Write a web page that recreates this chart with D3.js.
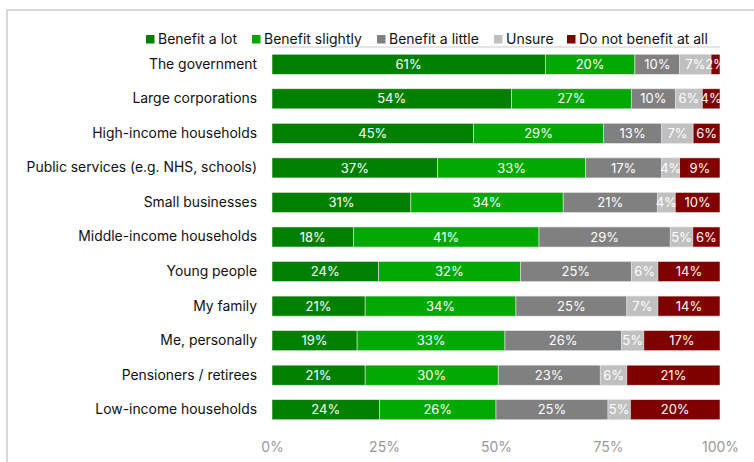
<!DOCTYPE html>
<html>
<head>
<meta charset="utf-8">
<script src="https://cdn.jsdelivr.net/npm/d3@7"></script>
<style>
  html, body { margin: 0; padding: 0; background: #fff; }
  svg { display: block; font-family: "Inter", "Open Sans", sans-serif; }
</style>
</head>
<body>
<svg id="chart" width="754" height="462"></svg>
<script>
// Survey groups, top to bottom
const categories = [
  "The government",
  "Large corporations",
  "High-income households",
  "Public services (e.g. NHS, schools)",
  "Small businesses",
  "Middle-income households",
  "Young people",
  "My family",
  "Me, personally",
  "Pensioners / retirees",
  "Low-income households"
];

// Response options (stack order, left to right)
const seriesNames = ["Benefit a lot", "Benefit slightly", "Benefit a little", "Unsure", "Do not benefit at all"];

// Percentages per response option, one entry per category
const benefitALot      = [61, 54, 45, 37, 31, 18, 24, 21, 19, 21, 24];
const benefitSlightly  = [20, 27, 29, 33, 34, 41, 32, 34, 33, 30, 26];
const benefitALittle   = [10, 10, 13, 17, 21, 29, 25, 25, 26, 23, 25];
const unsure           = [ 7,  6,  7,  4,  4,  5,  6,  7,  5,  6,  5];
const doNotBenefit     = [ 2,  4,  6,  9, 10,  6, 14, 14, 17, 21, 20];

const seriesValues = [benefitALot, benefitSlightly, benefitALittle, unsure, doNotBenefit];
const seriesColors = ["#008000", "#00a800", "#808080", "#c0c0c0", "#800000"];

const tickValues = [0, 25, 50, 75, 100];

// Build rows; each row is scaled so its segments fill the full 100% width
const rows = categories.map((cat, i) => {
  const row = { category: cat };
  const total = d3.sum(seriesValues, s => s[i]);
  seriesNames.forEach((name, k) => {
    row[name] = seriesValues[k][i];
    row[name + "_share"] = seriesValues[k][i] / total * 100;
  });
  return row;
});

const svg = d3.select("#chart");

// Outer frame
svg.append("rect")
  .attr("x", 7).attr("y", 10)
  .attr("width", 800).attr("height", 500)
  .attr("fill", "none")
  .attr("stroke", "#cccccc")
  .attr("stroke-width", 1.5);

const x = d3.scaleLinear().domain([0, 100]).range([272, 720]);
const y = d3.scaleBand().domain(categories).range([47, 427]).paddingInner(0.42).paddingOuter(0.21);

const stack = d3.stack().keys(seriesNames.map(n => n + "_share"));
const stacked = stack(rows);

// Line along the top of the plot area
svg.append("line")
  .attr("x1", x(0)).attr("x2", x(100))
  .attr("y1", 47).attr("y2", 47)
  .attr("stroke", "#dddddd")
  .attr("stroke-width", 1.5);

const layers = svg.append("g").selectAll("g")
  .data(stacked)
  .join("g")
  .attr("fill", (d, i) => seriesColors[i]);

layers.selectAll("rect")
  .data(d => d.map(p => ({ p, cat: p.data.category })))
  .join("rect")
  .attr("x", d => x(d.p[0]))
  .attr("y", d => y(d.cat))
  .attr("width", d => x(d.p[1]) - x(d.p[0]))
  .attr("height", y.bandwidth())
  .attr("stroke", "#e4e4e4")
  .attr("stroke-width", 0.6);

// Value labels inside segments
stacked.forEach((layer, k) => {
  const key = seriesNames[k];
  svg.append("g").selectAll("text")
    .data(layer)
    .join("text")
    .attr("x", p => (x(p[0]) + x(p[1])) / 2)
    .attr("y", p => y(p.data.category) + y.bandwidth() / 2)
    .attr("dy", "0.36em")
    .attr("text-anchor", "middle")
    .attr("fill", "#ffffff")
    .attr("font-size", 13)
    .text(p => p.data[key] + "%");
});

// Category axis
const yAxis = svg.append("g")
  .attr("transform", "translate(257,0)")
  .call(d3.axisLeft(y).tickSize(0).tickPadding(0));
yAxis.select(".domain").remove();
yAxis.selectAll("text")
  .attr("fill", "#111")
  .attr("font-size", 13.9)
  .attr("font-family", "Inter, sans-serif");

// Percentage axis
const xAxis = svg.append("g")
  .attr("transform", "translate(0,442)")
  .call(d3.axisBottom(x).tickValues(tickValues).tickFormat(d => d + "%").tickSize(0).tickPadding(0));
xAxis.select(".domain").remove();
xAxis.selectAll("text")
  .attr("fill", "#999")
  .attr("font-size", 14)
  .attr("font-family", "Inter, sans-serif");

// Legend
const legendX = [146, 252, 377, 494, 567];
const legend = svg.append("g").selectAll("g")
  .data(seriesNames)
  .join("g")
  .attr("transform", (d, i) => `translate(${legendX[i]},35)`);
legend.append("rect")
  .attr("width", 8.5).attr("height", 8.5)
  .attr("fill", (d, i) => seriesColors[i]);
legend.append("text")
  .attr("x", 12).attr("y", 4.3)
  .attr("dy", "0.35em")
  .attr("fill", "#111")
  .attr("font-size", 14)
  .text(d => d);
</script>
</body>
</html>
